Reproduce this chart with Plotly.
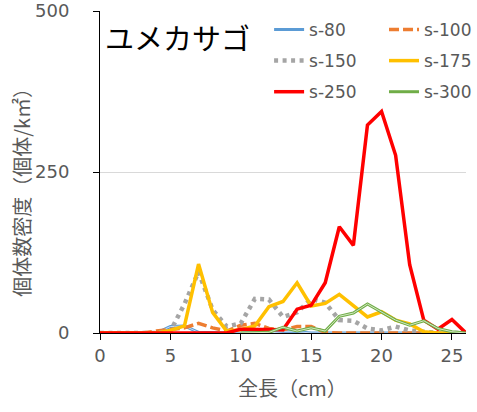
import plotly.graph_objects as go

# Total length classes (cm)
length_cm = list(range(0, 27))

# Density (individuals / km2) for each survey line
s80 = [0, 0, 0, 0, 0, 10, 11, 1, 0, 0, 0, 0, 0, 2, 2, 0, 0, 0, 0, 0, 0, 0, 0, 0, 0, 0, 0]
s100 = [0, 0, 0, 0, 3, 5, 8, 15, 8, 3, 12, 15, 7, 5, 10, 10, 1, 0, 0, 0, 0, 0, 0, 0, 0, 0, 0]
s150 = [0, 0, 0, 0, 0, 3, 45, 95, 36, 10, 15, 53, 52, 25, 32, 53, 47, 20, 19, 7, 4, 10, 4, 2, 0, 0, 0]
s175 = [0, 0, 0, 0, 0, 4, 11, 107, 32, 3, 5, 11, 41, 49, 78, 42, 46, 60, 43, 25, 33, 20, 14, 2, 0, 0, 0]
s250 = [0, 0, 0, 0, 0, 0, 0, 0, 0, 0, 6, 6, 6, 5, 37, 43, 78, 165, 136, 323, 344, 276, 106, 20, 6, 21, 0]
s300 = [None] * 10 + [0, 0, 1, 9, 3, 8, 3, 26, 31, 45, 32, 20, 12, 19, 7, 2, 0]

x_ticks = [0, 5, 10, 15, 20, 25]
y_ticks = [0, 250, 500]

GRAY_TXT = "#595959"
LATIN = "DejaVu Sans"
CJK = "Noto Sans CJK JP"

fig = go.Figure()


def add_line(name, y, color, width, dash="solid", legend="legend", inner=None):
    fig.add_trace(go.Scatter(
        x=length_cm, y=y, name=name, mode="lines",
        line=dict(color=color, width=width, dash=dash),
        legend=legend, legendgroup=name, cliponaxis=False,
        hoverinfo="skip",
    ))
    if inner:
        # lighter core to give a double-stroke look
        fig.add_trace(go.Scatter(
            x=length_cm, y=y, name=name, mode="lines",
            line=dict(color=inner, width=1), showlegend=False,
            legendgroup=name, cliponaxis=False, hoverinfo="skip",
        ))


add_line("s-80", s80, "#5B9BD5", 3, legend="legend", inner="#C9DEF2")
add_line("s-100", s100, "#ED7D31", 3.5, dash="10px,4px", legend="legend2")
add_line("s-150", s150, "#A5A5A5", 4.5, dash="4px,4.5px", legend="legend")
add_line("s-175", s175, "#FFC000", 3.5, legend="legend2")
add_line("s-250", s250, "#FF0000", 3.5, legend="legend")
add_line("s-300", s300, "#70AD47", 3, legend="legend2", inner="#D3E8C4")

legend_common = dict(
    font=dict(family=LATIN, size=17, color=GRAY_TXT),
    bgcolor="rgba(0,0,0,0)", borderwidth=0,
    orientation="v", yanchor="top", xanchor="left",
    tracegroupgap=6,
)

fig.update_layout(
    width=477, height=412,
    margin=dict(l=100, r=11, t=11, b=79, autoexpand=False),
    paper_bgcolor="white", plot_bgcolor="white",
    showlegend=True,
    legend=dict(x=0.462, y=0.997, **legend_common),
    legend2=dict(x=0.776, y=0.997, **legend_common),
    xaxis=dict(
        range=[0, 26], tickvals=x_ticks, showgrid=False, zeroline=False,
        showline=True, linecolor="black", linewidth=1,
        ticks="outside", ticklen=6, tickcolor="black",
        tickfont=dict(family=LATIN, size=18, color=GRAY_TXT),
        layer="below traces",
    ),
    yaxis=dict(
        range=[0, 500], tickvals=y_ticks, showgrid=True, gridcolor="#D9D9D9",
        zeroline=False, showline=True, linecolor="black", linewidth=1,
        ticks="outside", ticklen=6, tickcolor="black",
        tickfont=dict(family=LATIN, size=18, color=GRAY_TXT),
        ticklabelstandoff=20,
        layer="below traces",
    ),
    annotations=[
        dict(text="ユメカサゴ", xref="paper", yref="paper",
             x=0.008, y=0.918, xanchor="left", yanchor="middle",
             showarrow=False, font=dict(family=CJK, size=29, color="black")),
        dict(text="全長（cm）", xref="paper", yref="paper",
             x=0.526, y=-0.168, xanchor="center", yanchor="middle",
             showarrow=False, font=dict(family=CJK, size=20, color=GRAY_TXT)),
        dict(text="個体数密度（個体/k㎡）", xref="paper", yref="paper",
             x=-0.215, y=0.452, xanchor="center", yanchor="middle", textangle=-90,
             showarrow=False, font=dict(family=CJK, size=20, color=GRAY_TXT)),
    ],
)

fig.write_html("out.html")
